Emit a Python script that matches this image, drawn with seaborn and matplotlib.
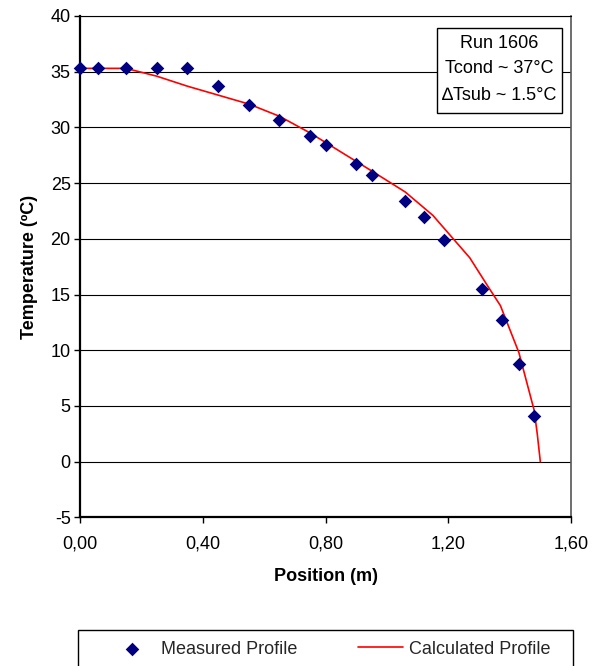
import matplotlib
matplotlib.use("Agg")
import matplotlib.pyplot as plt
import matplotlib.patches as mpatches
import seaborn as sns
import pandas as pd

# ---- data ----
measured_x = [0.00, 0.06, 0.15, 0.25, 0.35, 0.45, 0.55, 0.65, 0.75, 0.80,
              0.90, 0.95, 1.06, 1.12, 1.185, 1.31, 1.375, 1.43, 1.48]
measured_t = [35.3, 35.3, 35.3, 35.3, 35.3, 33.7, 32.0, 30.7, 29.2, 28.4,
              26.7, 25.7, 23.4, 22.0, 19.9, 15.5, 12.7, 8.8, 4.1]

calc_x = [0.00, 0.15, 0.25, 0.35, 0.45, 0.55, 0.65, 0.75, 0.85, 0.95,
          1.06, 1.15, 1.27, 1.33, 1.37, 1.43, 1.48, 1.49, 1.50]
calc_t = [35.3, 35.3, 34.6, 33.7, 32.9, 32.1, 31.0, 29.5, 27.8, 26.1,
          24.2, 22.1, 18.3, 15.7, 14.0, 9.8, 4.6, 2.5, 0.0]

x_ticks = [0.0, 0.4, 0.8, 1.2, 1.6]
x_tick_labels = ["0,00", "0,40", "0,80", "1,20", "1,60"]
y_ticks = [-5, 0, 5, 10, 15, 20, 25, 30, 35, 40]

annotation_lines = ["Run 1606", "Tcond ~ 37°C", "\u2206Tsub ~ 1.5°C"]

df_meas = pd.DataFrame({"Position": measured_x, "Temperature": measured_t})
df_calc = pd.DataFrame({"Position": calc_x, "Temperature": calc_t})

# ---- style ----
sns.set_theme(style="white")
plt.rcParams["font.family"] = ["Liberation Sans", "DejaVu Sans"]
plt.rcParams["axes.unicode_minus"] = False
FS = 13

W, H = 605, 666
fig = plt.figure(figsize=(W / 100, H / 100), dpi=100)
L, R, T, B = 80, 571, 16, 517.3
ax = fig.add_axes([L / W, 1 - B / H, (R - L) / W, (B - T) / H])

sns.lineplot(data=df_calc, x="Position", y="Temperature", ax=ax,
             color="#FF0000", linewidth=1.2, sort=False, estimator=None,
             label="Calculated Profile", zorder=3)
sns.scatterplot(data=df_meas, x="Position", y="Temperature", ax=ax,
                marker="D", s=48, color="#000080", edgecolor="#000080",
                linewidth=0, label="Measured Profile", zorder=4,
                clip_on=False)

ax.set_xlim(0, 1.6)
ax.set_ylim(-5, 40)
ax.set_xticks(x_ticks)
ax.set_xticklabels(x_tick_labels)
ax.set_yticks(y_ticks)
ax.tick_params(axis="both", which="major", labelsize=FS, colors="black",
               direction="out", length=4.5, width=1.0, left=True, bottom=True)
ax.tick_params(axis="x", pad=8.5)
ax.tick_params(axis="y", pad=2.2)

ax.grid(axis="y", color="black", linewidth=0.8)
ax.grid(axis="x", visible=False)
ax.set_axisbelow(True)

for s in ["left", "bottom"]:
    ax.spines[s].set_color("black")
    ax.spines[s].set_linewidth(1.6)
ax.spines["top"].set_color("black")
ax.spines["top"].set_linewidth(0.8)
ax.spines["right"].set_color("#555555")
ax.spines["right"].set_linewidth(1.2)

ax.set_xlabel("Position (m)", fontsize=FS, fontweight="bold", color="black")
ax.set_ylabel("Temperature (ºC)", fontsize=FS, fontweight="bold", color="black")
ax.xaxis.set_label_coords(0.5, (B - 568) / (B - T))
ax.yaxis.set_label_coords((38 - L) / (R - L), 0.5)

# annotation box
bx0, bx1, by0, by1 = 437, 562, 28.3, 113.3
ax.add_patch(mpatches.Rectangle(((bx0 - L) / (R - L), (B - by1) / (B - T)),
                                (bx1 - bx0) / (R - L), (by1 - by0) / (B - T),
                                transform=ax.transAxes, facecolor="white",
                                edgecolor="black", linewidth=1.0, zorder=5))
for yy, txt in zip([43.3, 68.3, 95.0], annotation_lines):
    ax.text(((bx0 + bx1) / 2 - L) / (R - L), (B - yy) / (B - T), txt,
            transform=ax.transAxes, ha="center", va="center", fontsize=FS,
            color="black", zorder=6)

# legend
handles, labels = ax.get_legend_handles_labels()
ax.get_legend().remove()
order = [labels.index("Measured Profile"), labels.index("Calculated Profile")]
handles = [handles[i] for i in order]
labels = [labels[i] for i in order]
fs_px = FS * 100 / 72
fig.legend(handles, labels, ncol=2, frameon=False, loc="center left",
           bbox_to_anchor=(109.2 / W, 1 - 649 / H), borderpad=0,
           borderaxespad=0, fontsize=FS, handlelength=45.6 / fs_px,
           handletextpad=6 / fs_px, columnspacing=60.7 / fs_px,
           markerscale=1.0)
fig.add_artist(mpatches.Rectangle((78.3 / W, -0.05), (573.3 - 78.3) / W,
                                  0.05 + 1 - 630 / H, transform=fig.transFigure,
                                  fill=False, edgecolor="black", linewidth=1.0,
                                  clip_on=False))

fig.savefig("out.png", dpi=100, facecolor="white")
